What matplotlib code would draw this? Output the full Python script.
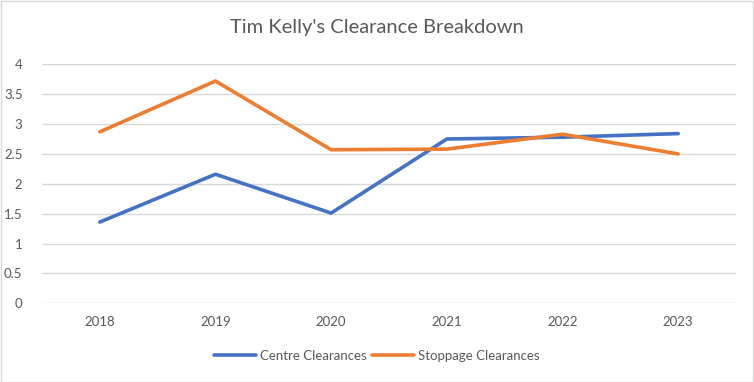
import matplotlib
matplotlib.use("Agg")
import matplotlib.pyplot as plt
from matplotlib.patches import Rectangle

years = ["2018", "2019", "2020", "2021", "2022", "2023"]
centre = [1.36, 2.16, 1.51, 2.75, 2.78, 2.84]
stoppage = [2.87, 3.72, 2.57, 2.58, 2.83, 2.50]
yticks = [0, 0.5, 1, 1.5, 2, 2.5, 3, 3.5, 4]

plt.rcParams['font.family'] = ['Lato', 'DejaVu Sans']
txt = '#595959'

fig = plt.figure(figsize=(7.54, 3.82), dpi=100)
fig.patches.append(Rectangle((0.5/754, 0.5/382), 1 - 1.5/754, 1 - 1.5/382, transform=fig.transFigure,
                             fill=False, edgecolor='#D9D9D9', linewidth=1))
ax = fig.add_axes([42/754, 1 - 303.3/382, 694/754, 239/382])
x = list(range(len(years)))
ax.plot(x, centre, color='#4472C4', lw=2.6, label='Centre Clearances', solid_capstyle='round')
ax.plot(x, stoppage, color='#ED7D31', lw=2.6, label='Stoppage Clearances', solid_capstyle='round')
ax.set_xlim(-0.5, len(years) - 0.5)
ax.set_ylim(0, 4)
ax.set_yticks(yticks)
ax.set_yticklabels([f"{v:g}" for v in yticks])
ax.set_xticks(x)
ax.set_xticklabels(years)
ax.grid(axis='y', color='#D9D9D9', lw=1)
ax.set_axisbelow(True)
for s in ax.spines.values():
    s.set_visible(False)
ax.tick_params(length=0, colors=txt, labelsize=9.5)
ax.tick_params(axis='y', pad=14)
ax.tick_params(axis='x', pad=9)
fig.text(377/754, 1 - 28/382, "Tim Kelly's Clearance Breakdown", ha='center', va='center',
         fontsize=14.5, color=txt)
fig.legend(loc='center', bbox_to_anchor=(377/754, 1 - 356/382), ncol=2, frameon=False,
           fontsize=9.5, labelcolor=txt, handlelength=3.2, handletextpad=0.3, columnspacing=0.4)
fig.savefig("out.png", dpi=100)
